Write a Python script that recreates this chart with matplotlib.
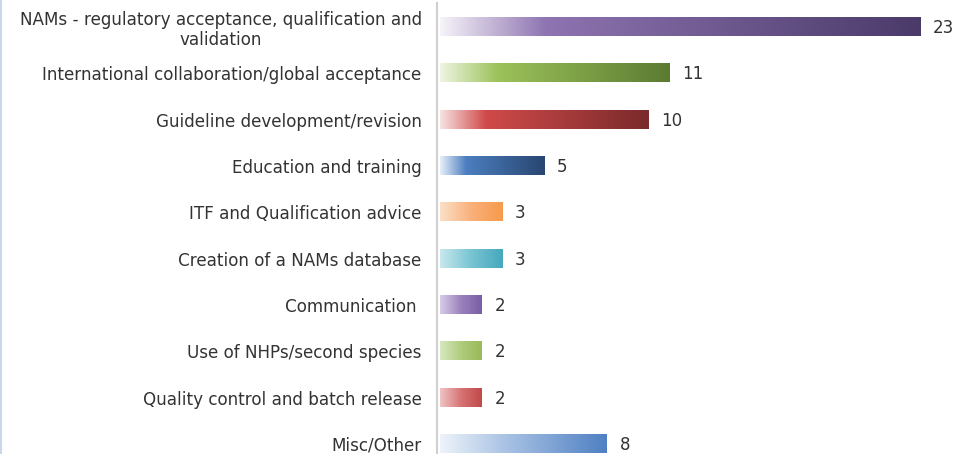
import numpy as np
import matplotlib.pyplot as plt
from matplotlib.colors import LinearSegmentedColormap

plt.rcParams["font.family"] = ["DejaVu Sans"]

categories = [
    "NAMs - regulatory acceptance, qualification and\nvalidation",
    "International collaboration/global acceptance",
    "Guideline development/revision",
    "Education and training",
    "ITF and Qualification advice",
    "Creation of a NAMs database",
    "Communication ",
    "Use of NHPs/second species",
    "Quality control and batch release",
    "Misc/Other",
]
values = [23, 11, 10, 5, 3, 3, 2, 2, 2, 8]

# gradient stops per bar (light left -> dark right)
gradients = [
    [(0.0, "#f6f3f9"), (0.22, "#8e74b1"), (1.0, "#4a3a69")],
    [(0.0, "#eef5e2"), (0.25, "#9cc25a"), (1.0, "#5b7b32")],
    [(0.0, "#f8e2e2"), (0.22, "#d04a4a"), (1.0, "#7a2a2c")],
    [(0.0, "#e6eff9"), (0.25, "#4c7ebf"), (1.0, "#284670")],
    [(0.0, "#fbe0c8"), (0.5, "#f9b07a"), (1.0, "#f79a4c")],
    [(0.0, "#c8e8ee"), (0.5, "#78c4d2"), (1.0, "#45a8bc")],
    [(0.0, "#d8cce8"), (0.5, "#9a82bc"), (1.0, "#7a5ea4")],
    [(0.0, "#d8e8c0"), (0.5, "#b0cc7c"), (1.0, "#98ba58")],
    [(0.0, "#f0c4c4"), (0.5, "#d67474"), (1.0, "#c04a48")],
    [(0.0, "#eef3fa"), (0.4, "#a8c2e4"), (1.0, "#4f80c2")],
]

fig = plt.figure(figsize=(9.57, 4.54), dpi=100)
ax = fig.add_axes([437 / 957, 0, 1 - 437 / 957, 1])

ypos = np.arange(len(values))
h = 0.39
grad = np.linspace(0, 1, 256).reshape(1, -1)
for y, v, stops in zip(ypos, values, gradients):
    cmap = LinearSegmentedColormap.from_list("g", stops)
    ax.imshow(grad, cmap=cmap, aspect="auto", interpolation="bicubic",
              extent=[0, v, y + h / 2, y - h / 2], zorder=2)
    ax.text(v + 0.6, y + 0.02, str(v), va="center", ha="left",
            fontsize=12, color="#333333")

ax.set_xlim(-0.144, (957 - 440) / 20.87)
ax.set_ylim(9 + 10 / 46.33, -27 / 46.33)
ax.set_yticks(ypos)
ax.set_yticklabels(categories, fontsize=12.1, color="#333333",
                   multialignment="center", linespacing=1.15)
ax.tick_params(axis="y", length=0, pad=11)
ax.set_xticks([])
for s in ["top", "right", "bottom"]:
    ax.spines[s].set_visible(False)
ax.spines["left"].set_color("#d0d0d0")
ax.spines["left"].set_linewidth(1.5)
ax.spines["left"].set_bounds(9.3, -0.52)

# thin light blue edge at far left
fig.add_artist(plt.Line2D([0.001, 0.001], [0, 1], color="#c8d8ea", lw=1.5,
                          transform=fig.transFigure))

fig.savefig("out.png", dpi=100)
